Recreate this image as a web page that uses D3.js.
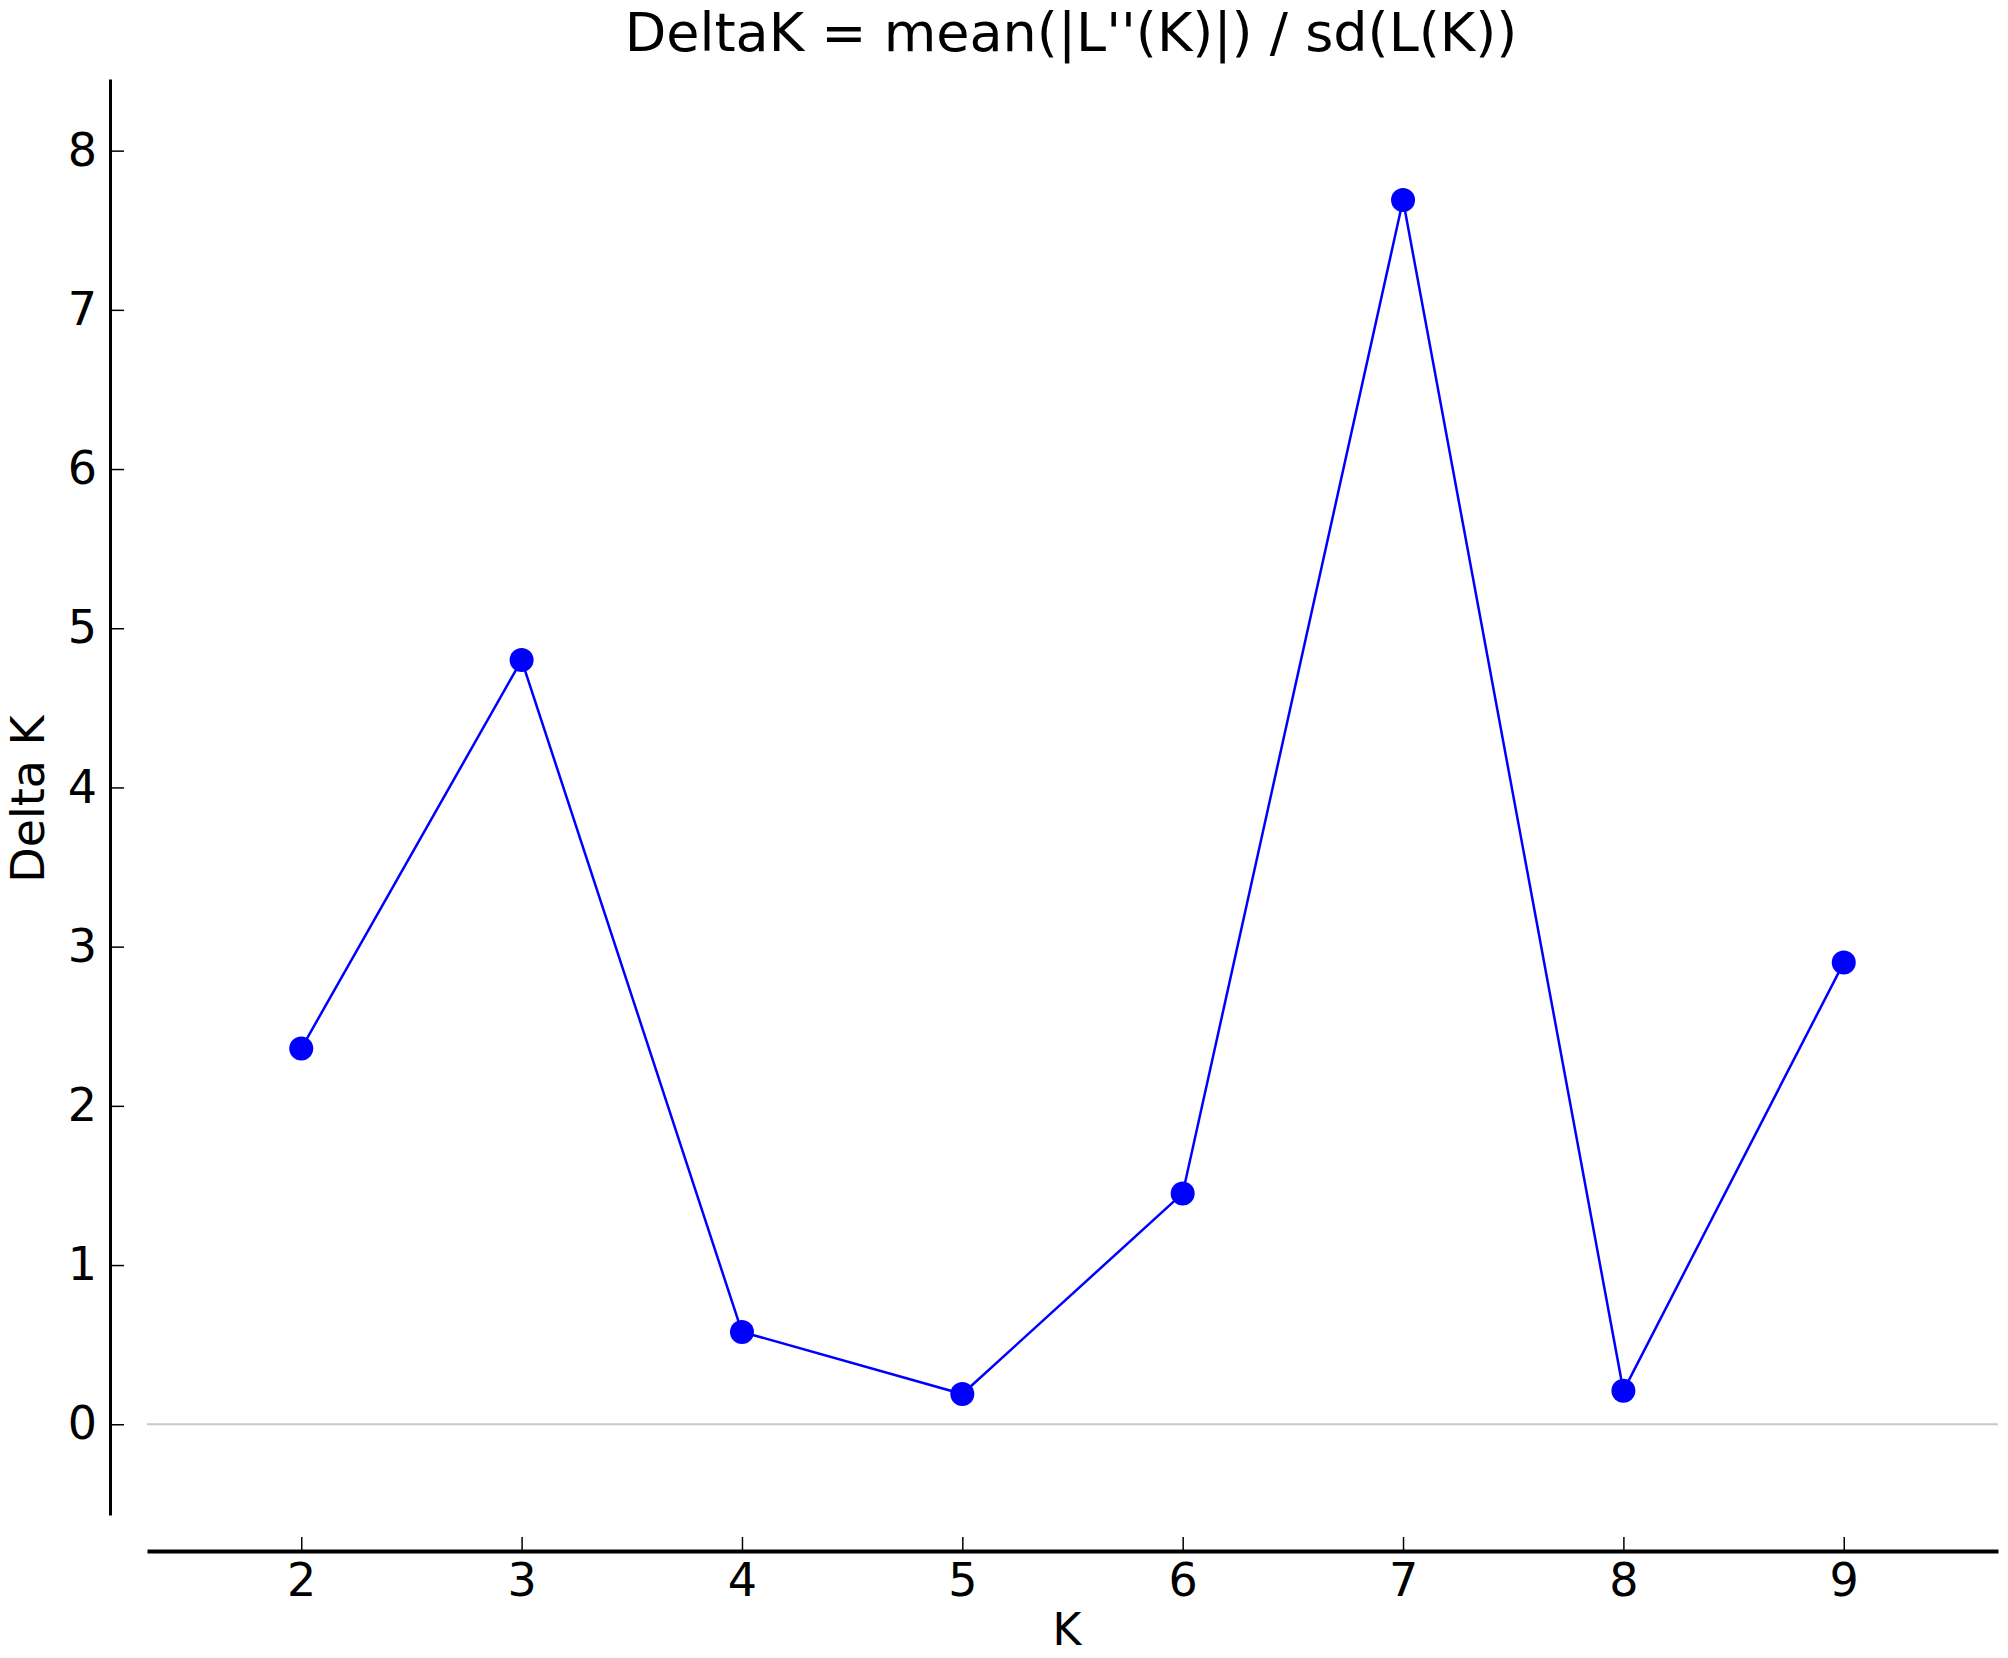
<!DOCTYPE html>
<html>
<head>
<meta charset="utf-8">
<script src="https://cdn.jsdelivr.net/npm/d3@7"></script>
<style>
  body { margin: 0; background: #fff; }
  text { font-family: "DejaVu Sans", sans-serif; fill: #000; }
</style>
</head>
<body>
<div id="chart"></div>
<script>
// values
const kValues = [2, 3, 4, 5, 6, 7, 8, 9];
const deltaK = [2.36, 4.80, 0.58, 0.19, 1.45, 7.69, 0.21, 2.90];
const xTicks = [2, 3, 4, 5, 6, 7, 8, 9];
const yTicks = [0, 1, 2, 3, 4, 5, 6, 7, 8];

const width = 2008, height = 1658;

const svg = d3.select("#chart")
  .append("svg")
  .attr("width", width)
  .attr("height", height);

// scales
const x = d3.scaleLinear().domain([1.3, 9.7]).range([147, 1998]);
const y = d3.scaleLinear().domain([-0.57, 8.45]).range([1515, 79]);

// zero reference line
svg.append("line")
  .attr("x1", x(1.3)).attr("x2", x(9.7))
  .attr("y1", y(0)).attr("y2", y(0))
  .attr("stroke", "#c8c8c8")
  .attr("stroke-width", 2);

// y axis (ticks point inward)
const yAxis = svg.append("g")
  .attr("transform", "translate(110,0)")
  .call(d3.axisLeft(y).tickValues(yTicks).tickSizeInner(-14).tickSizeOuter(0).tickPadding(13));
yAxis.select(".domain").attr("stroke", "#000").attr("stroke-width", 3);
yAxis.selectAll(".tick line").attr("stroke", "#000").attr("stroke-width", 1.5);
yAxis.selectAll("text").attr("font-size", 46).style("font-family", "DejaVu Sans");

// x axis (offset below the plot)
const xAxis = svg.append("g")
  .attr("transform", "translate(0,1551)")
  .call(d3.axisBottom(x).tickValues(xTicks).tickSizeInner(-14).tickSizeOuter(0).tickPadding(12));
xAxis.select(".domain").attr("stroke", "#000").attr("stroke-width", 4);
xAxis.selectAll(".tick line").attr("stroke", "#000").attr("stroke-width", 1.5);
xAxis.selectAll("text").attr("font-size", 46).style("font-family", "DejaVu Sans");

// line + markers
const line = d3.line()
  .x((d, i) => x(kValues[i]))
  .y(d => y(d));

svg.append("path")
  .datum(deltaK)
  .attr("d", line)
  .attr("fill", "none")
  .attr("stroke", "#0000ff")
  .attr("stroke-width", 2.5);

svg.selectAll("circle.pt")
  .data(deltaK)
  .join("circle")
  .attr("class", "pt")
  .attr("cx", (d, i) => x(kValues[i]))
  .attr("cy", d => y(d))
  .attr("r", 12)
  .attr("fill", "#0000ff");

// labels
svg.append("text")
  .text("DeltaK = mean(|L''(K)|) / sd(L(K))")
  .attr("x", 1071)
  .attr("y", 51)
  .attr("text-anchor", "middle")
  .attr("font-size", 54);

svg.append("text")
  .text("K")
  .attr("x", 1067)
  .attr("y", 1645)
  .attr("text-anchor", "middle")
  .attr("font-size", 44);

svg.append("text")
  .text("Delta K")
  .attr("transform", "translate(44,799) rotate(-90)")
  .attr("text-anchor", "middle")
  .attr("font-size", 46);
</script>
</body>
</html>
